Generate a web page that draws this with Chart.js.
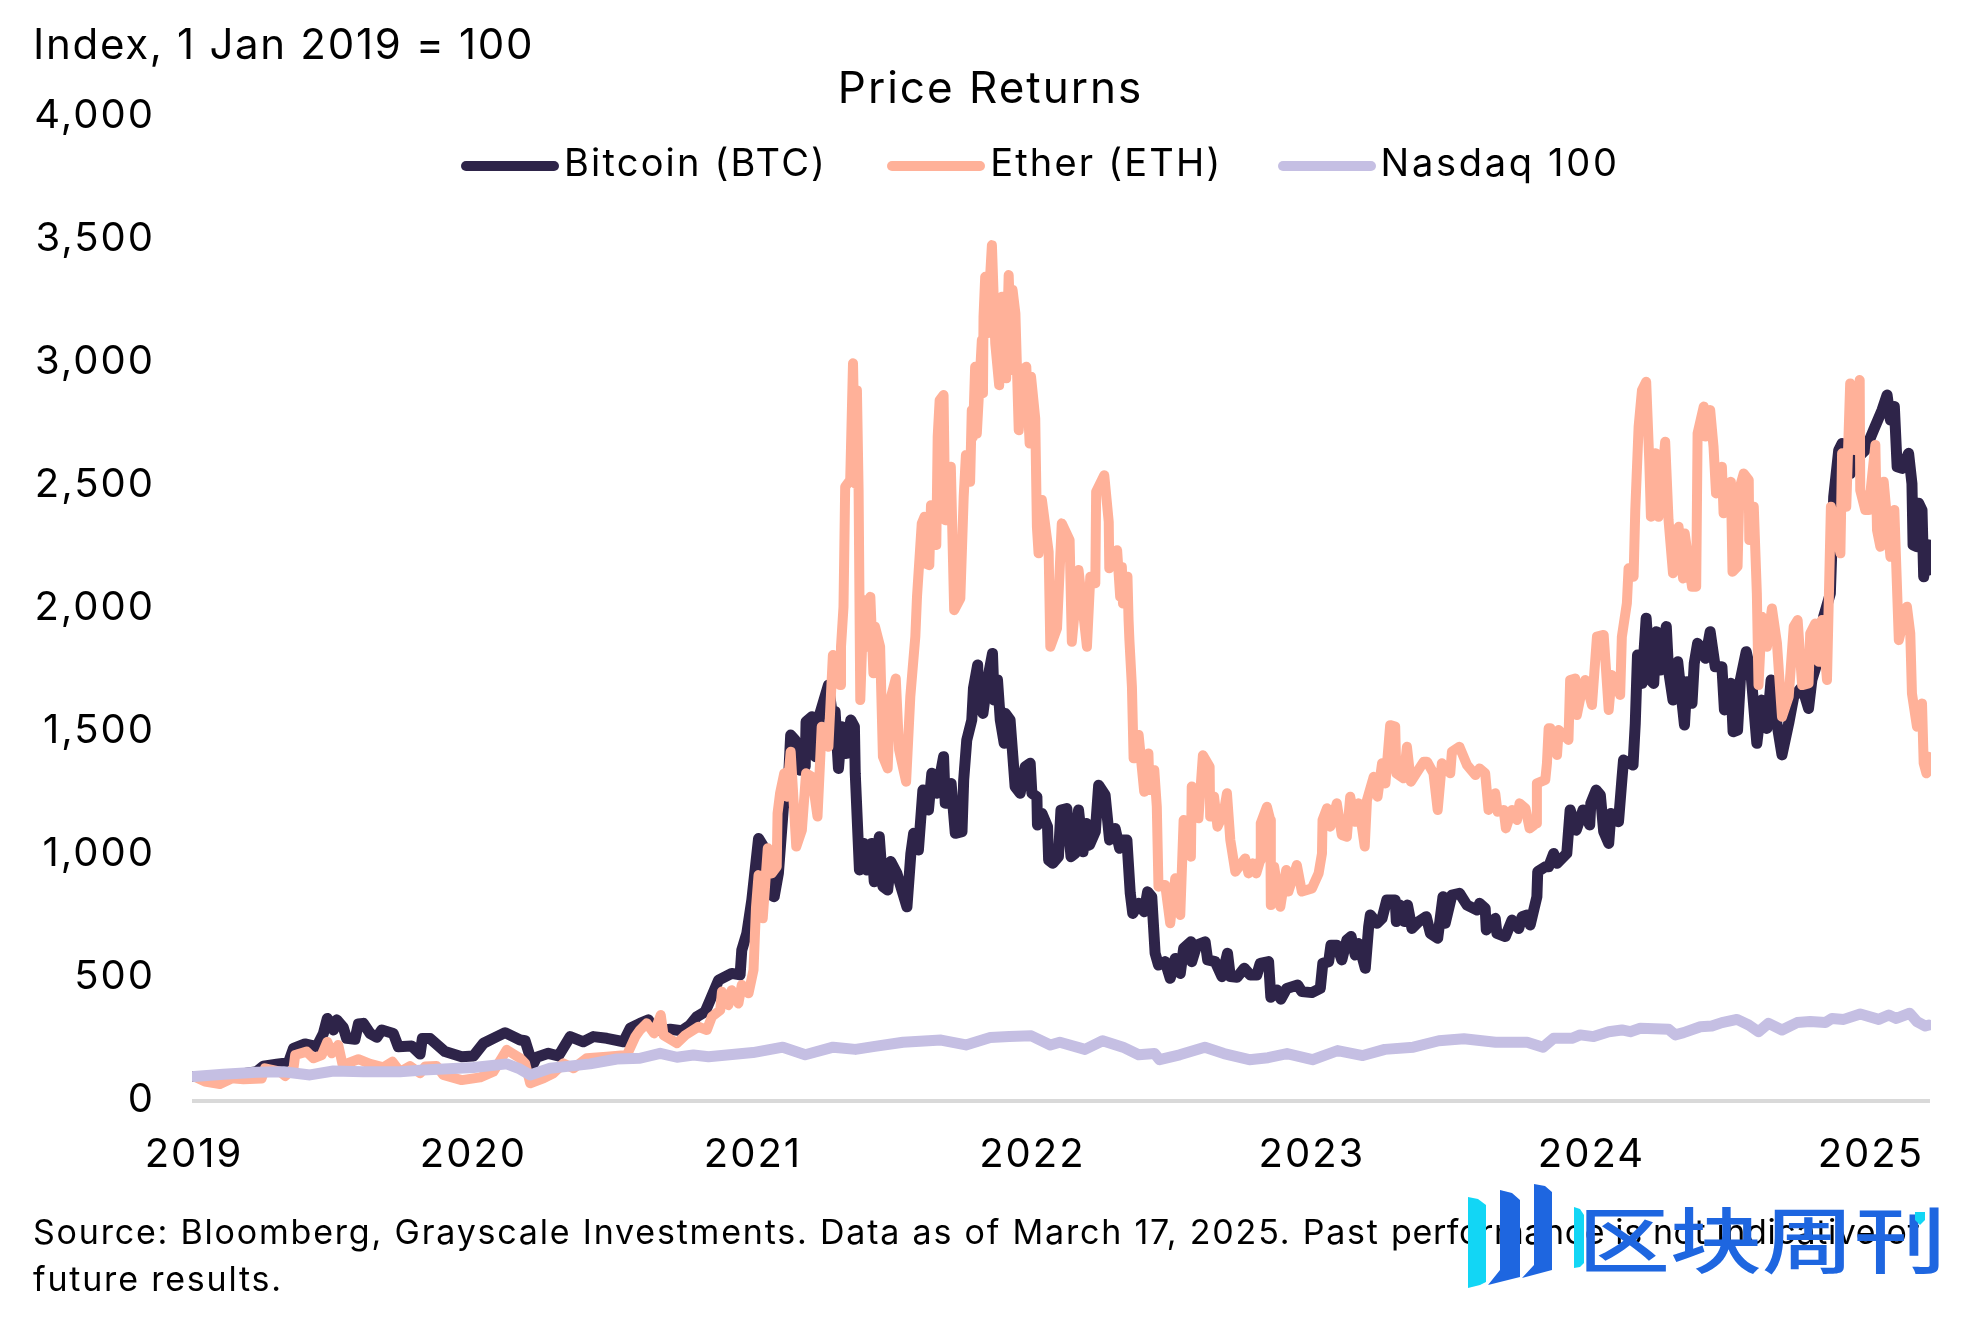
<!DOCTYPE html>
<html>
<head>
<meta charset="utf-8">
<title>Price Returns</title>
<script src="https://cdn.jsdelivr.net/npm/chart.js@4/dist/chart.umd.min.js"></script>
<style>
  html, body { margin: 0; padding: 0; background: #fff; }
  body { width: 1980px; height: 1320px; position: relative; overflow: hidden; font-family: Inter, sans-serif; color: #000; }
  canvas { position: absolute; left: 0; top: 0; }
  .note { position: absolute; white-space: nowrap; }
  #unit { left: 33px; top: 19px; font-size: 42px; line-height: 50px; letter-spacing: 1.7px; }
  #source { left: 33px; top: 1208px; font-size: 34px; line-height: 47px; letter-spacing: 1.8px; }
  #source span { letter-spacing: 0.6px; }
  #legend { position: absolute; left: 461px; top: 137px; display: flex; align-items: center; font-size: 38px; line-height: 50px; letter-spacing: 2.2px; }
  #legend span.item { display: flex; align-items: center; white-space: nowrap; }
  #legend span.item:nth-child(1) { margin-right: 60px; }
  #legend span.item:nth-child(2) { margin-right: 55px; }
  #legend span.item:nth-child(3) { letter-spacing: 2.7px; }
  #legend i { display: block; width: 98px; height: 10px; border-radius: 5px; margin: 8px 5px 0 0; }
  #mark { position: absolute; left: 1440px; top: 1160px; }
  #markText { position: absolute; left: 1578px; top: 1186px; font-family: "Noto Sans CJK SC"; font-weight: 500; font-size: 92px; line-height: 100px; color: #1e66e0; white-space: nowrap; transform: scaleY(0.78); }
</style>
</head>
<body>
<canvas id="chart" width="1980" height="1320"></canvas>
<div id="unit" class="note">Index, 1 Jan 2019 = 100</div>
<div id="legend"></div>
<div id="source" class="note">Source: Bloomberg, Grayscale Investments. Data as of March 17, 2025. Past <span>performance is not indicative of</span><br>future results.</div>
<div id="markText">区块周刊</div>
<svg id="mark" width="520" height="160" viewBox="0 0 520 160">
  <polygon points="28,37 38,39 46,45 46,122 40,125 28,128" fill="#12d6f5"/>
  <polygon points="60,30 72,33 80,40 80,117 48,125 60,110" fill="#1e66e0"/>
  <polygon points="94,24 105,26 112,32 112,110 82,118 94,105" fill="#1e66e0"/>
  <polygon points="134,47 140,49 144,55 144,103 140,107 134,108" fill="#12d6f5"/>
  <polygon points="475,52 485,52 485,60 480,65 475,60" fill="#12d6f5"/>
</svg>
<script>
// Tick labels and legend names
const yearTicks = [2019, 2020, 2021, 2022, 2023, 2024, 2025];
const seriesNames = ['Bitcoin (BTC)', 'Ether (ETH)', 'Nasdaq 100'];
const seriesColors = ['#2e2449', '#ffb199', '#c5bfe3'];
const seriesWidths = [11, 10, 11];

// Values, x is a decimal year
const btcYears = [
  2019.000, 2019.105, 2019.224, 2019.248, 2019.296, 2019.338, 2019.356, 2019.397, 2019.439, 2019.463,
  2019.477, 2019.499, 2019.511, 2019.534, 2019.546, 2019.576, 2019.588, 2019.606, 2019.630, 2019.654,
  2019.672, 2019.713, 2019.731, 2019.779, 2019.809, 2019.817, 2019.845, 2019.898, 2019.958, 2020.000,
  2020.036, 2020.071, 2020.113, 2020.167, 2020.185, 2020.212, 2020.226, 2020.268, 2020.304, 2020.346,
  2020.393, 2020.429, 2020.477, 2020.537, 2020.561, 2020.596, 2020.626, 2020.646, 2020.704, 2020.745,
  2020.775, 2020.799, 2020.829, 2020.847, 2020.877, 2020.924, 2020.954, 2020.960, 2020.978, 2020.996,
  2021.020, 2021.038, 2021.056, 2021.076, 2021.091, 2021.109, 2021.124, 2021.135, 2021.151, 2021.169,
  2021.187, 2021.190, 2021.211, 2021.223, 2021.240, 2021.270, 2021.282, 2021.294, 2021.306, 2021.318,
  2021.334, 2021.350, 2021.363, 2021.366, 2021.381, 2021.396, 2021.407, 2021.425, 2021.434, 2021.452,
  2021.465, 2021.482, 2021.493, 2021.515, 2021.533, 2021.551, 2021.565, 2021.575, 2021.592, 2021.608,
  2021.628, 2021.640, 2021.658, 2021.682, 2021.688, 2021.709, 2021.724, 2021.748, 2021.754, 2021.765,
  2021.783, 2021.789, 2021.804, 2021.807, 2021.823, 2021.837, 2021.857, 2021.863, 2021.875, 2021.885,
  2021.899, 2021.903, 2021.920, 2021.930, 2021.938, 2021.956, 2021.974, 2021.992, 2021.998, 2022.016,
  2022.018, 2022.034, 2022.054, 2022.058, 2022.073, 2022.093, 2022.102, 2022.123, 2022.138, 2022.153,
  2022.165, 2022.181, 2022.193, 2022.204, 2022.225, 2022.237, 2022.260, 2022.276, 2022.296, 2022.312,
  2022.320, 2022.338, 2022.350, 2022.359, 2022.380, 2022.400, 2022.412, 2022.427, 2022.439, 2022.451,
  2022.475, 2022.493, 2022.511, 2022.529, 2022.541, 2022.567, 2022.570, 2022.588, 2022.618, 2022.627,
  2022.654, 2022.678, 2022.698, 2022.708, 2022.732, 2022.758, 2022.779, 2022.803, 2022.815, 2022.845,
  2022.853, 2022.875, 2022.889, 2022.910, 2022.949, 2022.964, 2023.000, 2023.030, 2023.039, 2023.060,
  2023.068, 2023.089, 2023.107, 2023.125, 2023.140, 2023.155, 2023.167, 2023.191, 2023.203, 2023.209,
  2023.233, 2023.251, 2023.268, 2023.298, 2023.302, 2023.316, 2023.331, 2023.342, 2023.358, 2023.382,
  2023.409, 2023.424, 2023.450, 2023.469, 2023.477, 2023.501, 2023.528, 2023.555, 2023.591, 2023.600,
  2023.620, 2023.624, 2023.656, 2023.662, 2023.692, 2023.716, 2023.740, 2023.752, 2023.770, 2023.781,
  2023.805, 2023.808, 2023.835, 2023.847, 2023.865, 2023.877, 2023.912, 2023.924, 2023.946, 2023.970,
  2023.994, 2023.998, 2024.017, 2024.032, 2024.044, 2024.062, 2024.070, 2024.097, 2024.109, 2024.115,
  2024.149, 2024.157, 2024.165, 2024.181, 2024.196, 2024.211, 2024.223, 2024.232, 2024.246, 2024.268,
  2024.276, 2024.292, 2024.309, 2024.333, 2024.342, 2024.360, 2024.368, 2024.380, 2024.408, 2024.425,
  2024.443, 2024.467, 2024.476, 2024.499, 2024.507, 2024.523, 2024.533, 2024.554, 2024.571, 2024.592,
  2024.610, 2024.628, 2024.643, 2024.658, 2024.682, 2024.706, 2024.724, 2024.754, 2024.777, 2024.789,
  2024.807, 2024.831, 2024.855, 2024.867, 2024.885, 2024.897, 2024.927, 2024.945, 2024.980, 2025.010,
  2025.040, 2025.058, 2025.070, 2025.084, 2025.094, 2025.111, 2025.135, 2025.147, 2025.151, 2025.165,
  2025.171, 2025.183, 2025.189, 2025.203, 2025.206, 2025.208
];
const btcValues = [
  100, 99, 119, 142, 150, 156, 214, 232, 221, 275,
  336, 289, 330, 300, 255, 251, 313, 316, 275, 259,
  289, 275, 221, 224, 191, 254, 254, 201, 180, 183,
  235, 255, 278, 248, 245, 146, 178, 194, 183, 262,
  241, 262, 255, 241, 296, 316, 330, 286, 292, 286,
  309, 343, 363, 411, 492, 519, 513, 614, 682, 818,
  1068, 1035, 845, 831, 926, 1197, 1238, 1489, 1468, 1346,
  1360, 1543, 1563, 1401, 1577, 1692, 1590, 1584, 1353, 1523,
  1414, 1550, 1523, 1333, 940, 1048, 940, 1048, 892, 1075,
  872, 858, 974, 926, 858, 790, 1007, 1089, 1021, 1265,
  1184, 1333, 1252, 1401, 1211, 1292, 1089, 1096, 1306, 1468,
  1550, 1679, 1774, 1631, 1577, 1699, 1821, 1631, 1713, 1550,
  1455, 1577, 1550, 1401, 1279, 1252, 1360, 1374, 1252, 1238,
  1123, 1170, 1116, 980, 967, 994, 1184, 1190, 994, 1007,
  1184, 1014, 1129, 1041, 1096, 1285, 1245, 1062, 1109, 1028,
  1062, 1062, 845, 763, 804, 770, 851, 831, 601, 553,
  567, 499, 580, 519, 621, 648, 567, 634, 648, 574,
  567, 506, 601, 506, 503, 540, 513, 513, 560, 567,
  422, 452, 414, 458, 472, 445, 441, 458, 560, 567,
  634, 634, 574, 655, 669, 594, 641, 540, 709, 757,
  723, 743, 818, 818, 730, 797, 730, 797, 702, 730,
  750, 682, 662, 831, 723, 838, 845, 797, 777, 804,
  784, 696, 743, 682, 669, 736, 702, 750, 757, 716,
  831, 933, 953, 953, 1007, 967, 1007, 1184, 1102, 1184,
  1123, 1211, 1265, 1245, 1096, 1048, 1170, 1136, 1306, 1387,
  1367, 1536, 1814, 1699, 1964, 1713, 1699, 1909, 1753, 1930,
  1753, 1631, 1787, 1530, 1706, 1618, 1780, 1862, 1801, 1909,
  1767, 1767, 1591, 1699, 1502, 1509, 1713, 1828, 1740, 1455,
  1631, 1516, 1713, 1577, 1408, 1536, 1645, 1685, 1597, 1713,
  1780, 1970, 2065, 2458, 2648, 2675, 2553, 2608, 2648, 2730,
  2811, 2872, 2770, 2825, 2580, 2574, 2635, 2512, 2262, 2255,
  2432, 2404, 2133, 2262, 2160, 2262
];

const ethYears = [
  2019.000, 2019.039, 2019.093, 2019.135, 2019.177, 2019.242, 2019.254, 2019.308, 2019.326, 2019.356,
  2019.362, 2019.403, 2019.427, 2019.457, 2019.477, 2019.493, 2019.516, 2019.532, 2019.588, 2019.630,
  2019.678, 2019.710, 2019.737, 2019.773, 2019.809, 2019.827, 2019.868, 2019.892, 2019.958, 2020.024,
  2020.071, 2020.101, 2020.119, 2020.167, 2020.185, 2020.203, 2020.250, 2020.286, 2020.322, 2020.358,
  2020.405, 2020.477, 2020.549, 2020.579, 2020.596, 2020.620, 2020.646, 2020.670, 2020.680, 2020.728,
  2020.758, 2020.805, 2020.835, 2020.853, 2020.883, 2020.889, 2020.912, 2020.924, 2020.948, 2020.960,
  2020.984, 2021.002, 2021.011, 2021.020, 2021.035, 2021.053, 2021.067, 2021.085, 2021.088, 2021.097,
  2021.112, 2021.121, 2021.135, 2021.155, 2021.175, 2021.190, 2021.211, 2021.231, 2021.246, 2021.270,
  2021.286, 2021.312, 2021.315, 2021.324, 2021.330, 2021.348, 2021.358, 2021.366, 2021.372, 2021.378,
  2021.384, 2021.396, 2021.405, 2021.420, 2021.431, 2021.437, 2021.455, 2021.465, 2021.482, 2021.491,
  2021.511, 2021.523, 2021.548, 2021.563, 2021.581, 2021.587, 2021.604, 2021.614, 2021.616, 2021.631,
  2021.637, 2021.656, 2021.661, 2021.668, 2021.682, 2021.688, 2021.708, 2021.720, 2021.742, 2021.754,
  2021.762, 2021.777, 2021.783, 2021.787, 2021.795, 2021.801, 2021.819, 2021.823, 2021.825, 2021.831,
  2021.837, 2021.855, 2021.867, 2021.881, 2021.891, 2021.906, 2021.915, 2021.927, 2021.929, 2021.939,
  2021.951, 2021.962, 2021.978, 2021.990, 2021.995, 2022.010, 2022.016, 2022.022, 2022.034, 2022.058,
  2022.064, 2022.088, 2022.105, 2022.133, 2022.141, 2022.165, 2022.195, 2022.207, 2022.225, 2022.228,
  2022.257, 2022.273, 2022.275, 2022.303, 2022.314, 2022.320, 2022.324, 2022.340, 2022.344, 2022.347,
  2022.356, 2022.362, 2022.380, 2022.400, 2022.415, 2022.419, 2022.436, 2022.445, 2022.451, 2022.475,
  2022.493, 2022.511, 2022.529, 2022.541, 2022.567, 2022.570, 2022.594, 2022.610, 2022.634, 2022.636,
  2022.650, 2022.662, 2022.684, 2022.696, 2022.708, 2022.726, 2022.761, 2022.773, 2022.788, 2022.801,
  2022.815, 2022.817, 2022.839, 2022.851, 2022.853, 2022.865, 2022.887, 2022.908, 2022.916, 2022.946,
  2022.964, 2023.000, 2023.024, 2023.036, 2023.038, 2023.054, 2023.066, 2023.089, 2023.107, 2023.125,
  2023.137, 2023.155, 2023.167, 2023.189, 2023.197, 2023.221, 2023.235, 2023.251, 2023.263, 2023.280,
  2023.298, 2023.302, 2023.328, 2023.340, 2023.354, 2023.400, 2023.412, 2023.435, 2023.450, 2023.465,
  2023.495, 2023.501, 2023.528, 2023.555, 2023.585, 2023.600, 2023.620, 2023.632, 2023.656, 2023.664,
  2023.686, 2023.694, 2023.716, 2023.734, 2023.743, 2023.764, 2023.779, 2023.803, 2023.805, 2023.835,
  2023.841, 2023.847, 2023.853, 2023.877, 2023.883, 2023.918, 2023.924, 2023.942, 2023.948, 2023.966,
  2023.978, 2024.002, 2024.020, 2024.044, 2024.050, 2024.062, 2024.073, 2024.103, 2024.109, 2024.127,
  2024.133, 2024.151, 2024.157, 2024.169, 2024.181, 2024.196, 2024.207, 2024.213, 2024.229, 2024.240,
  2024.264, 2024.276, 2024.292, 2024.312, 2024.328, 2024.334, 2024.360, 2024.375, 2024.380, 2024.402,
  2024.408, 2024.425, 2024.437, 2024.446, 2024.467, 2024.473, 2024.499, 2024.505, 2024.523, 2024.530,
  2024.545, 2024.563, 2024.565, 2024.581, 2024.592, 2024.598, 2024.610, 2024.628, 2024.646, 2024.664,
  2024.682, 2024.706, 2024.724, 2024.738, 2024.754, 2024.777, 2024.783, 2024.801, 2024.813, 2024.825,
  2024.843, 2024.857, 2024.891, 2024.897, 2024.912, 2024.926, 2024.945, 2024.960, 2024.962, 2024.980,
  2024.992, 2025.016, 2025.022, 2025.034, 2025.046, 2025.070, 2025.084, 2025.100, 2025.129, 2025.141,
  2025.147, 2025.165, 2025.183, 2025.189, 2025.199, 2025.208
];
const ethValues = [
  100, 79, 69, 92, 88, 92, 133, 119, 102, 133,
  187, 201, 174, 187, 241, 194, 228, 146, 170, 151,
  137, 160, 119, 142, 113, 140, 142, 106, 85, 96,
  119, 174, 208, 174, 153, 72, 92, 113, 153, 133,
  174, 180, 187, 262, 289, 316, 275, 350, 268, 235,
  268, 302, 289, 343, 370, 445, 390, 451, 397, 472,
  438, 533, 790, 919, 743, 1028, 926, 953, 1170, 1252,
  1333, 1238, 1421, 1035, 1102, 1333, 1319, 1157, 1523, 1441,
  1814, 1692, 1848, 2011, 2499, 2526, 3001, 2512, 2892, 2485,
  1631, 2038, 1848, 2051, 1740, 1929, 1848, 1401, 1353, 1631,
  1719, 1428, 1299, 1645, 1889, 2052, 2350, 2377, 2187, 2180,
  2424, 2262, 2702, 2851, 2872, 2363, 2580, 1997, 2045, 2458,
  2628, 2519, 2811, 2702, 2987, 2716, 3096, 2879, 3190, 3353,
  3123, 3482, 3082, 2912, 3272, 2940, 3360, 2974, 3299, 3204,
  2729, 2973, 2987, 2675, 2946, 2777, 2336, 2228, 2445, 2234,
  1848, 1923, 2350, 2282, 1868, 2160, 1848, 2133, 2106, 2479,
  2546, 2356, 2167, 2241, 2051, 2173, 2024, 2133, 1956, 1875,
  1685, 1394, 1489, 1258, 1414, 1265, 1346, 1197, 872, 879,
  723, 906, 757, 1143, 994, 1279, 1150, 1407, 1360, 1157,
  1238, 1116, 1170, 1252, 1062, 933, 987, 926, 967, 926,
  980, 1130, 1197, 1143, 797, 953, 790, 940, 852, 960,
  852, 865, 926, 1007, 1143, 1191, 1116, 1211, 1082, 1075,
  1238, 1136, 1211, 1035, 1224, 1319, 1238, 1374, 1292, 1529,
  1523, 1333, 1313, 1441, 1299, 1380, 1380, 1333, 1184, 1374,
  1333, 1421, 1441, 1367, 1326, 1353, 1333, 1184, 1252, 1177,
  1184, 1109, 1184, 1143, 1211, 1191, 1109, 1129, 1292, 1306,
  1374, 1516, 1516, 1408, 1509, 1469, 1713, 1719, 1570, 1672,
  1713, 1611, 1889, 1896, 1794, 1591, 1733, 1652, 1889, 2025,
  2167, 2133, 2404, 2743, 2892, 2926, 2608, 2377, 2635, 2377,
  2682, 2364, 2147, 2336, 2126, 2309, 2092, 2092, 2716, 2825,
  2703, 2811, 2662, 2472, 2580, 2391, 2519, 2153, 2174, 2492,
  2553, 2526, 2282, 2418, 2065, 1692, 1970, 1848, 2004, 1862,
  1563, 1645, 1930, 1957, 1692, 1699, 1902, 1943, 1787, 1957,
  1713, 2418, 2228, 2635, 2418, 2919, 2648, 2933, 2485, 2404,
  2404, 2669, 2323, 2255, 2519, 2214, 2404, 1875, 2011, 1902,
  1658, 1523, 1617, 1374, 1333, 1400
];

const nasdaqYears = [
  2019.000, 2019.105, 2019.224, 2019.320, 2019.415, 2019.499, 2019.606, 2019.737, 2019.821, 2020.000,
  2020.119, 2020.161, 2020.203, 2020.274, 2020.417, 2020.513, 2020.596, 2020.668, 2020.728, 2020.787,
  2020.841, 2021.000, 2021.107, 2021.187, 2021.287, 2021.367, 2021.436, 2021.537, 2021.673, 2021.762,
  2021.849, 2021.917, 2021.996, 2022.064, 2022.098, 2022.188, 2022.251, 2022.324, 2022.380, 2022.437,
  2022.455, 2022.527, 2022.617, 2022.685, 2022.776, 2022.843, 2022.911, 2023.002, 2023.092, 2023.182,
  2023.261, 2023.363, 2023.454, 2023.544, 2023.657, 2023.770, 2023.827, 2023.865, 2023.930, 2023.960,
  2024.008, 2024.062, 2024.109, 2024.139, 2024.175, 2024.276, 2024.300, 2024.330, 2024.390, 2024.431,
  2024.467, 2024.521, 2024.563, 2024.598, 2024.634, 2024.682, 2024.736, 2024.783, 2024.837, 2024.861,
  2024.903, 2024.962, 2025.028, 2025.064, 2025.091, 2025.139, 2025.165, 2025.195, 2025.208
];
const nasdaqValues = [
  100, 109, 117, 119, 106, 122, 119, 119, 126, 136,
  151, 133, 106, 133, 151, 171, 174, 194, 178, 187,
  180, 197, 219, 188, 219, 210, 222, 239, 248, 228,
  258, 262, 265, 228, 239, 210, 245, 219, 188, 193,
  168, 188, 219, 193, 168, 176, 193, 168, 205, 185,
  210, 219, 245, 253, 239, 239, 219, 255, 255, 269,
  262, 282, 289, 282, 296, 292, 269, 278, 302, 305,
  319, 332, 309, 282, 316, 289, 319, 323, 319, 336,
  332, 354, 332, 350, 336, 357, 323, 305, 309
];

// x/y pairs for the linear year axis
function zipPoints(years, values) {
  return years.map((year, i) => ({ x: year, y: values[i] }));
}

const seriesPoints = [
  zipPoints(btcYears, btcValues),
  zipPoints(ethYears, ethValues),
  zipPoints(nasdaqYears, nasdaqValues)
];

// Legend sits inside the plot with a tight swatch to text gap, so it is built as plain DOM
const legendBox = document.getElementById('legend');
seriesNames.forEach((name, i) => {
  legendBox.innerHTML += `<span class="item"><i style="background:${seriesColors[i]}"></i>${name}</span>`;
});

Chart.defaults.font.family = 'Inter, sans-serif';
Chart.defaults.color = '#000';

// The reference face runs wider than Inter, so open the canvas text up a little.
// The title block also gets nudged right, its centre is not the middle of the canvas.
const chartTweaks = {
  id: 'chartTweaks',
  afterLayout: (chart) => { chart.titleBlock.left += 52; },
  beforeDraw: (chart) => { chart.ctx.letterSpacing = '2px'; }
};

new Chart(document.getElementById('chart').getContext('2d'), {
  type: 'line',
  plugins: [chartTweaks],
  data: {
    datasets: seriesNames.map((name, i) => ({
      label: name,
      data: seriesPoints[i],
      borderColor: seriesColors[i],
      borderWidth: seriesWidths[i],
      borderCapStyle: 'round',
      borderJoinStyle: 'round',
      pointRadius: 0,
      tension: 0,
      clip: 2,
      order: 3 - i   // Nasdaq on top, then ETH, then BTC
    }))
  },
  options: {
    responsive: false,
    animation: false,
    layout: { padding: { top: 63, right: 51, left: 0, bottom: 119 } },
    plugins: {
      legend: { display: false },
      tooltip: { enabled: false },
      title: {
        display: true,
        text: 'Price Returns',
        color: '#000',
        font: { size: 44, weight: 400 },
        padding: { top: 0, bottom: 2 }
      }
    },
    scales: {
      x: {
        type: 'linear',
        min: yearTicks[0],
        max: 2025.208,
        grid: { display: false },
        border: { display: true, color: '#d9d9d9', width: 4 },
        afterFit: (scale) => { scale.height = 100; },
        afterBuildTicks: (scale) => { scale.ticks = yearTicks.map(v => ({ value: v })); },
        ticks: {
          autoSkip: false,
          maxRotation: 0,
          padding: 22,
          font: { size: 40 },
          callback: (value) => String(value)
        }
      },
      y: {
        min: 0,
        max: 4000,
        grid: { display: false },
        border: { display: false },
        afterFit: (scale) => { scale.width = 194; },
        ticks: {
          stepSize: 500,
          padding: 31,
          labelOffset: -1.5,
          font: { size: 40 },
          callback: (value) => value.toLocaleString('en-US')
        }
      }
    }
  }
});
</script>
</body>
</html>
